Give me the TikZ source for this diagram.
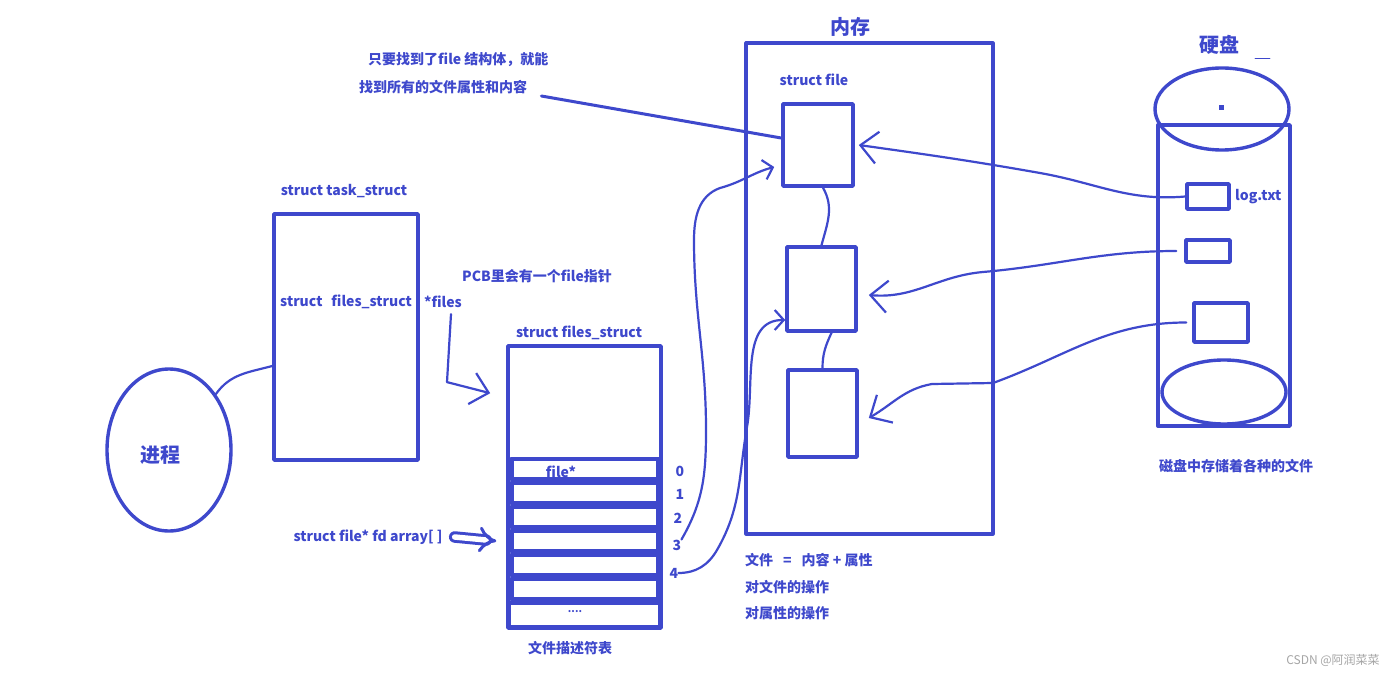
\documentclass[tikz,border=0pt]{standalone}
\usepackage{fontspec}
\setmainfont{Noto Sans CJK SC}
\usepackage{tikz}
\usetikzlibrary{arrows.meta,positioning,shapes.geometric}
\definecolor{pen}{RGB}{62,72,204}

\begin{document}
\begin{tikzpicture}[x=1pt, y=-1pt, line join=round, line cap=round,
    every node/.style={text=pen, inner sep=0pt, font=\bfseries\fontsize{14}{16}\selectfont},
    box/.style={draw=pen, line width=3.6pt, rectangle},
    link/.style={draw=pen, line width=2.2pt},
    barb/.style={-{Straight Barb[length=17pt, width=32pt]}},
    smallbarb/.style={-{Straight Barb[length=9pt, width=20pt]}},
    big/.style={font=\bfseries\fontsize{20}{22}\selectfont}]
  \path[use as bounding box, fill=white] (0,0) rectangle (1400,674);

  % Process
  \node[ellipse, draw=pen, line width=3.4pt, minimum width=124pt, minimum height=162pt] (proc) at (169,450) {};
  \node[big] (proclab) at (160,455) {进程};

  % task_struct
  \node[box, minimum width=144pt, minimum height=246pt] (task) at (346,337) {};
  \node (tasklab) at (344,191) {struct task\_struct};
  \node[anchor=west] (fsfield) at (280,302) {struct\hspace{9pt}files\_struct};
  \node (files) at (443,302) {*files};
  \node[anchor=west] (pcb) at (462,276) {PCB里会有一个file指针};
  \draw[link] (proc.50) to[out=55, in=195] ([yshift=-29pt]task.west);

  % files_struct
  \node[box, minimum width=153pt, minimum height=282pt] (fstruct) at (584.5,487) {};
  \node (fslab) at (579,333) {struct files\_struct};
  \foreach \i in {0,...,5}
    \node[box, line width=4.4pt, fill=white, minimum width=147pt, minimum height=20pt] (row\i) at (585,469+24*\i) {};
  \node[box, line width=4.4pt, fill=white, minimum width=152pt, minimum height=24pt] (row6) at (584.5,615) {};
  \node (fileptr) at (561,472) {file*};
  \node[font=\bfseries\fontsize{10}{12}\selectfont] (dots) at (575,612) {....};
  \node (fdtab) at (570,648) {文件描述符表};
  \foreach \i/\x/\y in {0/680/471, 1/680/494, 2/678/518, 3/677/545, 4/674/573}
    \node (idx\i) at (\x,\y) {\i};
  \draw[link, barb] ([shift={(8pt,-6pt)}]files.south) -- ++(-4,68) -- ([shift={(-16pt,-49pt)}]fstruct.north west);

  % fd array
  \node (fdarr) at (368,537) {struct file* fd array[ ]};
  \draw[draw=pen, line width=3pt, double=white, double distance=5.5pt, -{Implies[length=11pt]}]
    ([xshift=12pt]fdarr.east) -- ([xshift=-13pt]row3.west);

  % Memory
  \node[box, line width=3.2pt, minimum width=247pt, minimum height=491pt] (mem) at (869.5,288.5) {};
  \node[big] (memlab) at (850,27) {内存};
  \node (sflab) at (814,80) {struct file};
  \node[box, minimum width=70pt, minimum height=82pt] (f1) at (818,145) {};
  \node[box, minimum width=69pt, minimum height=84pt] (f2) at (821.5,289) {};
  \node[box, minimum width=69pt, minimum height=87pt] (f3) at (822.5,413.5) {};
  \draw[link] ([xshift=5pt]f1.south) to[out=-60, in=75] (f2.north);
  \draw[link] ([xshift=10pt]f2.south) to[out=-115, in=90] (f3.north);
  \node[anchor=west] (eq) at (745,560) {文件\hspace{10pt}=\hspace{10pt}内容 + 属性};
  \node[anchor=west] (op1) at (745,587) {对文件的操作};
  \node[anchor=west] (op2) at (745,613) {对属性的操作};

  % fd -> struct file
  \draw[link, smallbarb] (idx3.north east) to[out=60, in=-90] (706,430) to[out=90, in=-90] (694,240)
    to[out=90, in=200] (720,188) to[out=15, in=195] ([shift={(-7pt,-22pt)}]f1.west);
  \draw[link, smallbarb] (idx4.east) to[out=0, in=-120] (717,550) to[out=60, in=-100] (747,427)
    to[out=80, in=180] ([yshift=-31pt]f2.west);

  % Note
  \node[anchor=west] (note1) at (368,60) {只要找到了file 结构体，就能};
  \node[anchor=west] (note2) at (359,87) {找到所有的文件属性和内容};
  \draw[link, line width=3pt] ([shift={(14pt,-9pt)}]note2.east) -- ([yshift=7pt]f1.west);

  % Disk
  \draw[pen, line width=3.4pt] (1158,125) rectangle (1290,426);
  \draw[pen, line width=3.4pt] (1222,109) ellipse [x radius=67, y radius=41];
  \draw[pen, line width=3.4pt] (1224,392) ellipse [x radius=62, y radius=32];
  \fill[pen] (1219,105) rectangle (1224,110);
  \node[big] (disklab) at (1219,45) {硬盘};
  \draw[pen, line width=0.8pt] (1255,58) -- (1270,58);
  \node[box, minimum width=42pt, minimum height=25pt] (d1) at (1208,196.5) {};
  \node[box, minimum width=44pt, minimum height=22pt] (d2) at (1208,251) {};
  \node[box, minimum width=54pt, minimum height=39pt] (d3) at (1221,322.5) {};
  \node[anchor=west] (logtxt) at (1235,197) {log.txt};
  \node (disknote) at (1236,466) {磁盘中存储着各种的文件};

  % Disk -> memory
  \draw[link, barb] (d1.west) to[out=185, in=-10] (1040,173) to[out=170, in=-8] ([xshift=4pt]f1.east);
  \draw[link, barb] ([xshift=-8pt]d2.west) to[out=180, in=5] (983,272) to[out=185, in=-5] ([shift={(11pt,-6pt)}]f2.east);
  \draw[link, barb] ([xshift=-6pt]d3.west) to[out=180, in=20] (993,383) -- (932,384)
    to[out=190, in=30] ([shift={(10pt,-4.5pt)}]f3.east);

  % Watermark
  \node[text=gray!70, font=\fontsize{12}{14}\selectfont] (wm) at (1333,660) {CSDN @阿润菜菜};
\end{tikzpicture}
\end{document}
